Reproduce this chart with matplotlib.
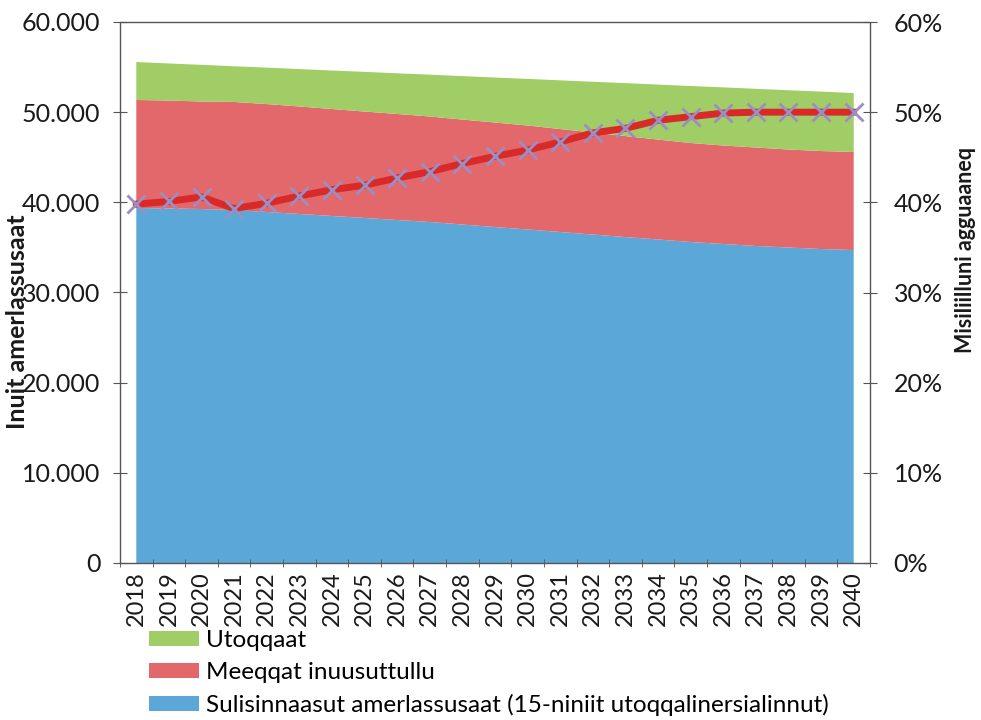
import matplotlib.pyplot as plt
from matplotlib.ticker import FuncFormatter, PercentFormatter, FixedLocator

plt.rcParams['font.family'] = ['Lato', 'DejaVu Sans']

years = [str(y) for y in range(2018, 2041)]

# Sulisinnaasut amerlassusaat (15-niniit utoqqalinersialinnut)
sulisinnaasut = [39370, 39320, 39260, 39150, 38930, 38710, 38490, 38270, 38040, 37820, 37540, 37260,
                 36990, 36710, 36430, 36150, 35880, 35600, 35380, 35160, 34990, 34820, 34710]
# Meeqqat inuusuttullu
meeqqat = [11980, 11970, 11920, 11980, 11970, 11920, 11860, 11800, 11760, 11700, 11640, 11590,
           11530, 11420, 11310, 11200, 11080, 10980, 10920, 10920, 10870, 10870, 10870]
# Utoqqaat
utoqqaat = [4210, 4110, 4070, 3960, 4040, 4150, 4270, 4400, 4510, 4640, 4820, 4990,
            5170, 5400, 5630, 5870, 6100, 6320, 6450, 6510, 6570, 6590, 6540]
# Misiliilluni agguaaneq (%)
agguaaneq = [39.8, 40.1, 40.6, 39.3, 39.9, 40.7, 41.4, 41.9, 42.7, 43.4, 44.3, 45.1,
             45.8, 46.7, 47.7, 48.2, 49.1, 49.5, 49.9, 50.0, 50.0, 50.0, 50.0]

labels = ['Sulisinnaasut amerlassusaat (15-niniit utoqqalinersialinnut)',
          'Meeqqat inuusuttullu', 'Utoqqaat']
colors = ['#5ba8d8', '#e2686b', '#a0cd65']

fig = plt.figure(figsize=(9.81, 7.2), dpi=100)
ax = fig.add_axes([120 / 981, 1 - 563 / 720, 750 / 981, 541 / 720])

x = list(range(len(years)))
ax.stackplot(x, sulisinnaasut, meeqqat, utoqqaat, colors=colors, labels=labels, linewidth=0)

ax.set_xlim(-0.5, len(years) - 0.5)
ax.set_ylim(0, 60000)
ax.set_yticks(range(0, 60001, 10000))
ax.yaxis.set_major_formatter(FuncFormatter(lambda v, p: '0' if v == 0 else f'{int(v):,}'.replace(',', '.')))
ax.set_xticks(x)
ax.set_xticklabels(years, rotation=90)
ax.xaxis.set_minor_locator(FixedLocator([i - 0.5 for i in range(len(years) + 1)]))
ax.tick_params(axis='x', which='major', length=0, pad=6, labelsize=17, labelcolor='#1a1a1a')
ax.tick_params(axis='x', which='minor', length=6, direction='inout', color='#555555')
ax.tick_params(axis='y', length=10, direction='inout', color='#555555', pad=9,
               labelsize=18, labelcolor='#1a1a1a')

for s in ax.spines.values():
    s.set_linestyle((0, (1, 1)))
    s.set_color('#555555')
    s.set_linewidth(1.0)

ax2 = ax.twinx()
ax2.plot(x, agguaaneq, color='#d92a2a', linewidth=5, marker='x', markersize=13,
         markeredgecolor='#9a8fc4', markeredgewidth=2, zorder=3)
ax2.set_ylim(0, 60)
ax2.set_yticks(range(0, 61, 10))
ax2.yaxis.set_major_formatter(PercentFormatter(decimals=0))
ax2.tick_params(axis='y', length=10, direction='inout', color='#555555', pad=12,
                labelsize=18, labelcolor='#1a1a1a')
for s in ax2.spines.values():
    s.set_visible(False)

fig.text(18 / 981, 1 - 322 / 720, 'Inuit amerlassusaat', rotation=90, ha='center', va='center',
         fontsize=18, fontweight='bold', color='#1a1a1a')
fig.text(966 / 981, 1 - 250 / 720, 'Misiliilluni agguaaneq', rotation=90, ha='center', va='center',
         fontsize=15.5, fontweight='bold', color='#1a1a1a')

handles, lbls = ax.get_legend_handles_labels()
fig.legend(handles[::-1], lbls[::-1], loc='upper left', bbox_to_anchor=(149 / 981, 1 - 630 / 720),
           frameon=False, fontsize=17.5, handlelength=2.05, handleheight=0.62, handletextpad=0.3,
           labelspacing=0.45, borderpad=0, borderaxespad=0)

fig.savefig('out.png', dpi=100)
